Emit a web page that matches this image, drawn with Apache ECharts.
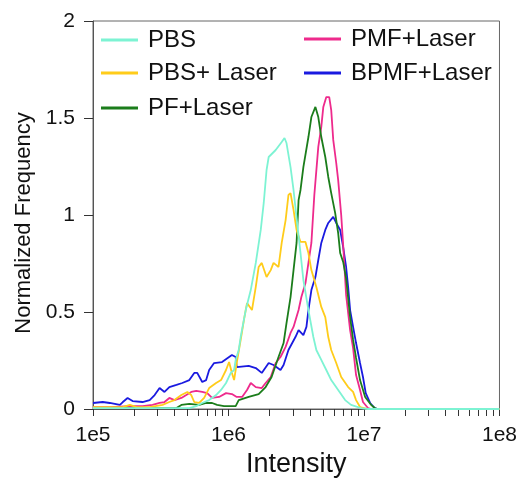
<!DOCTYPE html>
<html><head><meta charset="utf-8">
<script src="https://cdn.jsdelivr.net/npm/echarts@6/dist/echarts.min.js"></script>
<style>html,body{margin:0;padding:0;background:#fff}#c{width:520px;height:487px}</style>
</head><body><div id="c"></div>
<script>
// ---- data ----
const seriesNames = ['PBS', 'PBS+ Laser', 'PF+Laser', 'PMF+Laser', 'BPMF+Laser'];

const pbsX = [1.00e5, 2.62e5, 5.14e5, 5.78e5, 6.40e5, 7.20e5, 8.10e5, 8.81e5, 9.59e5, 1.04e6, 1.10e6, 1.13e6, 1.19e6, 1.23e6, 1.34e6, 1.46e6, 1.59e6, 1.73e6, 1.82e6, 1.91e6, 1.98e6, 2.23e6, 2.47e6, 2.59e6, 2.68e6, 2.87e6, 3.02e6, 3.18e6, 3.40e6, 3.57e6, 3.89e6, 4.23e6, 4.45e6, 4.84e6, 5.27e6, 5.73e6, 6.45e6, 7.26e6, 8.03e6, 9.51e6, 1.07e7, 1.00e8];
const pbsY = [0.005, 0.005, 0.005, 0.015, 0.031, 0.046, 0.072, 0.098, 0.134, 0.186, 0.201, 0.253, 0.304, 0.371, 0.510, 0.613, 0.753, 0.923, 1.062, 1.232, 1.299, 1.335, 1.376, 1.397, 1.371, 1.247, 1.129, 0.985, 0.804, 0.665, 0.510, 0.371, 0.304, 0.253, 0.201, 0.149, 0.098, 0.046, 0.021, 0.005, 0, 0];

const pbsLaserX = [1.00e5, 1.33e5, 1.66e5, 1.87e5, 2.10e5, 2.62e5, 3.26e5, 3.66e5, 3.99e5, 4.49e5, 4.97e5, 5.31e5, 5.59e5, 6.08e5, 6.61e5, 7.20e5, 8.10e5, 8.81e5, 9.59e5, 1.01e6, 1.06e6, 1.10e6, 1.15e6, 1.23e6, 1.30e6, 1.37e6, 1.49e6, 1.59e6, 1.67e6, 1.76e6, 1.91e6, 2.05e6, 2.15e6, 2.34e6, 2.47e6, 2.64e6, 2.77e6, 2.87e6, 3.02e6, 3.18e6, 3.40e6, 3.70e6, 3.89e6, 4.09e6, 4.45e6, 4.84e6, 5.18e6, 5.45e6, 5.73e6, 6.24e6, 6.79e6, 7.64e6, 8.31e6, 8.74e6, 9.35e6, 1.07e7, 1.00e8];
const pbsLaserY = [0.010, 0.010, 0.010, 0.021, 0.010, 0.010, 0.021, 0.036, 0.046, 0.072, 0.088, 0.072, 0.036, 0.031, 0.057, 0.108, 0.134, 0.149, 0.201, 0.242, 0.186, 0.149, 0.237, 0.356, 0.459, 0.546, 0.510, 0.629, 0.732, 0.753, 0.680, 0.716, 0.753, 0.732, 0.856, 0.974, 1.103, 1.113, 1.026, 0.923, 0.861, 0.861, 0.804, 0.716, 0.629, 0.526, 0.474, 0.371, 0.304, 0.237, 0.165, 0.113, 0.088, 0.046, 0.010, 0, 0];

const pfLaserX = [1.00e5, 4.13e5, 4.49e5, 5.14e5, 6.08e5, 6.84e5, 7.57e5, 8.24e5, 9.27e5, 1.13e6, 1.19e6, 1.41e6, 1.67e6, 1.88e6, 2.08e6, 2.34e6, 2.55e6, 2.68e6, 2.87e6, 3.02e6, 3.18e6, 3.29e6, 3.40e6, 3.57e6, 3.89e6, 4.09e6, 4.38e6, 4.60e6, 4.84e6, 5.18e6, 5.45e6, 5.73e6, 6.13e6, 6.45e6, 6.67e6, 7.02e6, 7.38e6, 7.90e6, 8.31e6, 8.74e6, 9.35e6, 1.02e7, 1.13e7, 1.20e7, 1.26e7, 1.00e8];
const pfLaserY = [0.005, 0.005, 0.021, 0.026, 0.021, 0.031, 0.031, 0.021, 0.015, 0.015, 0.046, 0.062, 0.077, 0.113, 0.165, 0.268, 0.340, 0.443, 0.577, 0.716, 0.856, 1.077, 1.129, 1.247, 1.402, 1.505, 1.557, 1.505, 1.402, 1.299, 1.196, 1.113, 1.010, 0.907, 0.804, 0.758, 0.675, 0.474, 0.356, 0.263, 0.149, 0.062, 0.021, 0.005, 0, 0];

const pmfLaserX = [1.00e5, 1.33e5, 1.87e5, 2.32e5, 2.75e5, 3.10e5, 3.37e5, 3.66e5, 3.99e5, 4.49e5, 4.88e5, 5.31e5, 5.78e5, 6.40e5, 6.96e5, 7.57e5, 8.52e5, 9.59e5, 1.06e6, 1.15e6, 1.26e6, 1.37e6, 1.46e6, 1.59e6, 1.76e6, 1.88e6, 2.05e6, 2.23e6, 2.42e6, 2.64e6, 2.87e6, 3.02e6, 3.29e6, 3.45e6, 3.70e6, 3.89e6, 4.09e6, 4.30e6, 4.60e6, 4.84e6, 5.01e6, 5.27e6, 5.54e6, 5.73e6, 5.93e6, 6.24e6, 6.45e6, 6.79e6, 7.02e6, 7.38e6, 7.90e6, 8.31e6, 8.74e6, 9.35e6, 9.83e6, 1.07e7, 1.13e7, 1.00e8];
const pmfLaserY = [0.010, 0.010, 0.015, 0.015, 0.021, 0.031, 0.036, 0.057, 0.046, 0.057, 0.072, 0.088, 0.093, 0.088, 0.082, 0.057, 0.062, 0.082, 0.077, 0.062, 0.062, 0.098, 0.134, 0.113, 0.108, 0.134, 0.165, 0.237, 0.268, 0.320, 0.392, 0.423, 0.510, 0.577, 0.649, 0.753, 0.856, 1.103, 1.351, 1.454, 1.557, 1.608, 1.608, 1.541, 1.387, 1.268, 1.180, 1.000, 0.845, 0.588, 0.407, 0.314, 0.175, 0.098, 0.036, 0.005, 0, 0];

const bpmfLaserX = [1.00e5, 1.03e5, 1.18e5, 1.33e5, 1.58e5, 1.66e5, 1.80e5, 1.96e5, 2.32e5, 2.62e5, 2.85e5, 3.10e5, 3.37e5, 3.66e5, 4.13e5, 4.56e5, 5.14e5, 5.59e5, 5.88e5, 6.40e5, 6.84e5, 7.20e5, 7.83e5, 8.96e5, 1.06e6, 1.13e6, 1.15e6, 1.41e6, 1.59e6, 1.76e6, 1.98e6, 2.15e6, 2.42e6, 2.55e6, 2.77e6, 3.12e6, 3.29e6, 3.57e6, 3.76e6, 3.89e6, 4.09e6, 4.38e6, 4.60e6, 4.84e6, 5.18e6, 5.45e6, 5.93e6, 6.24e6, 6.67e6, 7.02e6, 7.38e6, 7.64e6, 7.90e6, 8.31e6, 8.74e6, 9.35e6, 9.83e6, 1.03e7, 1.11e7, 1.20e7, 1.26e7, 1.00e8];
const bpmfLaserY = [0.031, 0.036, 0.036, 0.031, 0.021, 0.036, 0.057, 0.041, 0.036, 0.046, 0.072, 0.108, 0.088, 0.113, 0.124, 0.134, 0.149, 0.186, 0.186, 0.139, 0.149, 0.201, 0.237, 0.242, 0.278, 0.268, 0.216, 0.222, 0.211, 0.186, 0.237, 0.227, 0.201, 0.227, 0.304, 0.371, 0.407, 0.381, 0.423, 0.510, 0.613, 0.680, 0.768, 0.856, 0.923, 0.959, 0.990, 0.959, 0.923, 0.835, 0.732, 0.629, 0.510, 0.423, 0.340, 0.237, 0.165, 0.082, 0.031, 0.005, 0, 0];

const xTickValues = [1e5, 2e5, 3e5, 4e5, 5e5, 6e5, 7e5, 8e5, 9e5, 1e6, 2e6, 3e6, 4e6, 5e6, 6e6, 7e6, 8e6, 9e6, 1e7, 2e7, 3e7, 4e7, 5e7, 6e7, 7e7, 8e7, 9e7, 1e8];
const xLabelValues = [1e5, 1e6, 1e7, 1e8];
const xLabelTexts = ['1e5', '1e6', '1e7', '1e8'];
const yTicks = [0, 0.5, 1, 1.5, 2];

// ---- chart ----
const colors = ['#7df3d3', '#ffcc1a', '#1b7d1b', '#ee2a8c', '#1a1ae0'];
const xs = [pbsX, pbsLaserX, pfLaserX, pmfLaserX, bpmfLaserX];
const ys = [pbsY, pbsLaserY, pfLaserY, pmfLaserY, bpmfLaserY];
const FONT = 'Liberation Sans, Arial, Helvetica, sans-serif';

const series = seriesNames.map((name, i) => ({
  name, type: 'line', color: colors[i], symbol: 'none', showSymbol: false,
  lineStyle: { width: 1.8, color: colors[i] },
  data: xs[i].map((x, k) => [x, ys[i][k]]),
  z: 10 - i
}));

function leg(name, left, top) {
  return {
    data: [name], left, top, padding: 0, icon: 'rect', itemWidth: 37, itemHeight: 3,
    selectedMode: false,
    textStyle: { fontSize: 24, color: '#111', fontFamily: FONT, padding: [0, 0, 0, 5] }
  };
}

const chart = echarts.init(document.getElementById('c'), null, { renderer: 'canvas' });
chart.setOption({
  animation: false,
  backgroundColor: '#fff',
  textStyle: { fontFamily: FONT },
  legend: [
    leg('PBS', 101, 28), leg('PBS+ Laser', 101, 61), leg('PF+Laser', 101, 96),
    leg('PMF+Laser', 304, 27), leg('BPMF+Laser', 304, 61)
  ],
  grid: { left: 93, top: 21, width: 410, height: 388, show: true, borderColor: '#666', borderWidth: 1, containLabel: false },
  xAxis: {
    type: 'log', logBase: 10, min: xLabelValues[0], max: xLabelValues[xLabelValues.length - 1],
    name: 'Intensity', nameLocation: 'middle', nameGap: 40,
    nameTextStyle: { fontSize: 27, color: '#111', fontFamily: FONT },
    axisLine: { show: true, lineStyle: { color: '#555', width: 1 } },
    axisTick: { show: true, inside: false, length: 7, customValues: xTickValues, lineStyle: { color: '#333' } },
    axisLabel: {
      customValues: xLabelValues, fontSize: 21, color: '#111', margin: 16, fontFamily: FONT,
      formatter: v => { const i = xLabelValues.findIndex(t => Math.abs(t - v) / t < 1e-6); return i >= 0 ? xLabelTexts[i] : ''; }
    },
    splitLine: { show: false }, minorTick: { show: false }
  },
  yAxis: {
    type: 'value', min: yTicks[0], max: yTicks[yTicks.length - 1], interval: 0.5,
    name: 'Normalized Frequency', nameLocation: 'middle', nameGap: 49,
    nameTextStyle: { fontSize: 22, color: '#111', fontFamily: FONT, padding: [0, 16, 0, 0] },
    axisLine: { show: true, lineStyle: { color: '#555', width: 1 } },
    axisTick: { show: true, length: 9, lineStyle: { color: '#333' } },
    axisLabel: { fontSize: 21, color: '#111', margin: 18, fontFamily: FONT },
    splitLine: { show: false }
  },
  series
});
</script></body></html>
